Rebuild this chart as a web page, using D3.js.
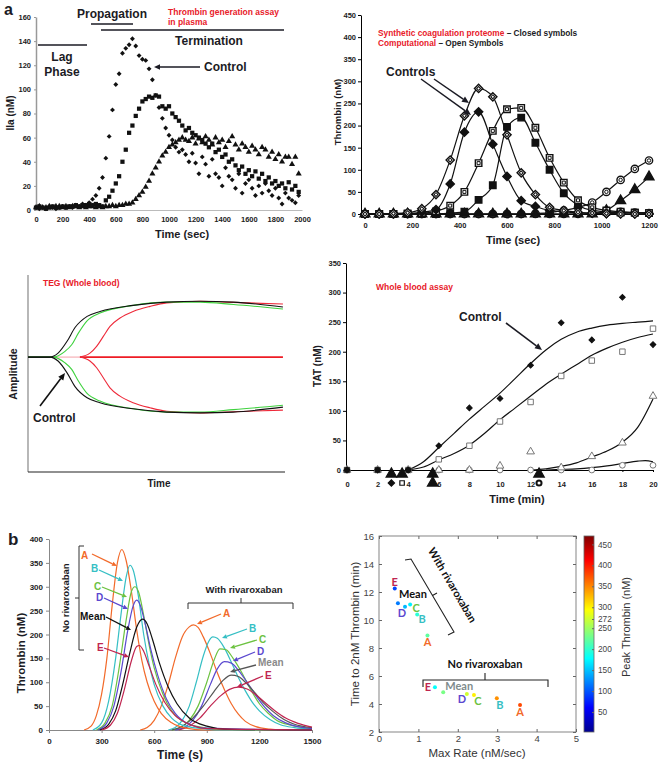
<!DOCTYPE html>
<meta charset="utf-8" />
<script src="https://d3js.org/d3.v7.min.js"></script>
<style>
  body { margin: 0; background: #fff; }
  svg { font-family: 'Liberation Sans', Arial, sans-serif; }
</style>
<div id="fig"></div>

<script>
  // ---------- a, top left: thrombin generation assay in plasma (IIa, nM) ----------
  // one reading every 25 s from t = 0
  const plasmaStep = 25;
  const plasmaControl = [2, 1, 2, 1, 3, 2, 1, 2, 3, 2, 3, 2, 4, 3, 5, 4,
    6, 9, 12, 18, 27, 43, 61, 83, 104, 113, 130, 134, 137, 142, 136, 128, 125, 124, 117, 108,
    95, 85, 76, 68, 62, 58, 52, 48, 50, 46, 40, 47, 39, 30, 44, 38, 28, 42, 30, 27,
    20, 35, 28, 25, 18, 30, 14, 22, 25, 18, 12, 20, 14, 22, 16, 12, 18, 10, 5, 14,
    10, 8, 6, 12];
  const plasmaSquare = [2, 3, 2, 1, 2, 3, 2, 2, 3, 2, 3, 3, 4, 3, 4, 4, 5, 4, 5, 4, 3,
    8, 11, 16, 22, 28, 40, 50, 64, 70, 78, 84, 90, 92, 94, 93, 95, 94, 86, 84, 86,
    80, 77, 74, 70, 66, 68, 64, 62, 60, 58, 55, 52, 55, 48, 50, 44, 46, 40, 42, 37,
    33, 36, 30, 33, 28, 32, 26, 30, 24, 27, 22, 24, 20, 22, 18, 23, 17, 20, 15];
  const plasmaTriangle = [2, 3, 2, 2, 3, 2, 3, 3, 2, 3, 2, 3, 3, 2, 3, 2, 3, 3, 2, 3, 2, 3, 3, 4, 3, 4, 4, 5, 5,
    6, 9, 12, 15, 19, 24, 30, 35, 40, 45, 48, 52, 54, 56, 58, 60, 58, 57, 60, 55,
    59, 56, 61, 58, 54, 60, 56, 58, 52, 57, 61, 54, 50, 55, 52, 48, 53, 50, 46, 52,
    50, 44, 48, 42, 46, 40, 44, 44, 38, 44, 30];

  // ---------- a, top right: synthetic proteome vs computational (thrombin, nM) ----------
  const tgTime = [0, 60, 120, 180, 240, 300, 360, 420, 480, 540, 600, 660, 720, 780, 840, 900, 960, 1020, 1080, 1140, 1200];
  const tgOpenDiamond = [0, 0, 1, 3, 12, 44, 122, 222, 284, 265, 179, 93, 44, 15, 8, 4, 2, 1, 0, 0, 0];
  const tgDiamond = [0, 0, 0, 1, 4, 10, 68, 185, 231, 158, 85, 30, 17, 8, 5, 3, 2, 1, 1, 0, 0];
  const tgOpenSquare = [0, 0, 0, 1, 2, 6, 19, 50, 115, 188, 237, 240, 195, 127, 71, 31, 15, 8, 5, 3, 2];
  const tgSquare = [0, 0, 0, 0, 0, 0, 2, 5, 32, 65, 197, 218, 161, 100, 47, 20, 8, 5, 3, 3, 2];
  const tgOpenCircle = [0, 0, 0, 0, 0, 0, 0, 0, 0, 0, 0, 0, 1, 3, 8, 15, 26, 50, 77, 102, 121];
  const tgCircle = [0, 0, 0, 0, 0, 0, 0, 0, 0, 0, 0, 0, 0, 0, 0, 0, 2, 4, 5, 3, 2];
  const tgTriangle = [0, 0, 0, 0, 0, 0, 0, 0, 0, 0, 0, 0, 0, 0, 0, 0, 0, 8, 30, 55, 84];

  // ---------- a, middle left: TEG amplitude (upper half of the trace) ----------
  const tegBlackT = [0, 8.5, 11.7, 15.2, 18.3, 23, 28, 40.9, 54, 67, 79.8, 99.2];
  const tegBlack = [0, 0, 2.4, 9.6, 18, 24.8, 27.8, 31.5, 33.5, 34, 33.5, 30.5];
  const tegGreenT = [0, 9.7, 14.4, 17, 19.6, 22.8, 28, 40.9, 54, 67, 80, 99.2];
  const tegGreen = [0, 0, 3.5, 7.5, 14.6, 21.8, 26.8, 31.5, 33.5, 33.5, 32, 29.3];
  const tegRedT = [20.2, 24.1, 26.7, 29.3, 31.9, 35.8, 40.9, 47.5, 54, 67, 79.8, 99.2];
  const tegRed = [0, 2.4, 6.5, 12.6, 18.7, 23.8, 27.8, 30.9, 33, 34, 33.3, 32.3];

  // ---------- a, middle right: whole blood assay (TAT, nM) ----------
  const tatTime = [0, 2, 4, 6, 8, 10, 12, 14, 16, 18, 20];
  const tatDiamond = [0, 0, 0, 41, 105, 121, 177, 249, 220, 292, 212];
  const tatSquare = [0, 0, 0, 18, 41, 82, 115, 159, 185, 200, 239];
  const tatTriangle = [0, 0, 0, 0, 0, 7, 31, 4, 23, 46, 125];
  const tatCircle = [0, 0, 0, 0, 0, 0, 0, 0, 0, 8, 8];
  const fitT = [4, 5, 6, 7, 8, 9, 10, 11, 12, 13, 14, 15, 16, 17, 18, 19, 20];
  const fitControl = [0, 14, 38, 62, 86, 108, 130, 155, 180, 203, 221, 233, 240, 245, 248, 250, 252];
  const fitSquare = [0, 5, 17, 28, 42, 62, 85, 105, 125, 145, 162, 178, 194, 206, 216, 224, 230];
  const fitTriangleT = [12, 13, 14, 15, 16, 17, 18, 19, 20];
  const fitTriangle = [0, 2, 6, 12, 22, 32, 47, 72, 120];
  const fitCircleT = [13, 14, 15, 16, 17, 18, 19, 19.5, 20];
  const fitCircle = [0, 1, 2, 4, 7, 11, 15, 16, 14];
  // clot times marked under the axis
  const clotTime = [2.9, 2.9, 3.6, 3.6, 5.6, 5.6, 12.55, 12.55];
  const clotSymbol = ['triangle', 'diamond', 'triangle', 'square', 'triangle', 'triangle', 'triangle', 'circle'];
  const clotRow = [0, 1, 0, 1, 0, 1, 0, 1];

  // ---------- b, left: thrombin (nM) vs time (s) ----------
  const donors = ['A', 'B', 'C', 'D', 'Mean', 'E'];
  const noRiva = {
    A: [[200, 0], [240, 8], [270, 30], [300, 75], [330, 150], [360, 260], [390, 350], [416, 378], [440, 355], [470, 290], [500, 210], [530, 145], [560, 100], [600, 60], [640, 35], [700, 15], [780, 4], [900, 0], [1500, 0]],
    B: [[250, 0], [300, 15], [340, 60], [380, 150], [410, 240], [440, 320], [462, 345], [480, 335], [510, 280], [540, 200], [570, 140], [600, 95], [650, 50], [700, 25], [780, 8], [900, 2], [1000, 0], [1500, 0]],
    C: [[270, 0], [320, 15], [360, 50], [400, 130], [440, 230], [470, 290], [490, 300], [510, 290], [540, 240], [570, 180], [600, 130], [650, 75], [700, 40], [780, 15], [900, 4], [1000, 1], [1500, 0]],
    D: [[280, 0], [330, 15], [370, 50], [410, 120], [450, 210], [480, 260], [500, 272], [520, 262], [550, 220], [580, 170], [620, 115], [670, 65], [720, 35], [800, 12], [900, 4], [1500, 0]],
    Mean: [[290, 0], [340, 12], [380, 40], [420, 95], [460, 160], [500, 215], [534, 232], [560, 222], [590, 190], [630, 140], [680, 90], [730, 55], [800, 25], [900, 8], [1000, 2], [1500, 0]],
    E: [[300, 0], [350, 10], [390, 35], [430, 85], [470, 145], [500, 175], [515, 177], [540, 165], [570, 135], [610, 95], [660, 58], [720, 30], [800, 12], [900, 3], [1500, 0]]
  };
  const withRiva = {
    A: [[520, 0], [560, 5], [600, 20], [640, 50], [680, 95], [720, 150], [760, 195], [800, 216], [824, 220], [850, 215], [880, 195], [920, 160], [960, 120], [1000, 85], [1040, 55], [1080, 33], [1120, 18], [1180, 7], [1260, 2], [1350, 0], [1500, 0]],
    B: [[680, 0], [720, 5], [760, 20], [800, 50], [840, 100], [880, 155], [910, 185], [935, 195], [960, 192], [1000, 172], [1040, 142], [1080, 110], [1120, 82], [1160, 58], [1200, 40], [1260, 22], [1320, 11], [1400, 5], [1500, 2]],
    C: [[700, 0], [750, 5], [800, 20], [850, 50], [900, 100], [940, 145], [975, 170], [1010, 168], [1050, 150], [1100, 120], [1150, 85], [1200, 55], [1250, 35], [1300, 20], [1380, 10], [1500, 3]],
    D: [[720, 0], [770, 5], [820, 20], [870, 50], [920, 95], [960, 128], [1000, 143], [1040, 140], [1080, 125], [1130, 100], [1180, 72], [1230, 48], [1280, 30], [1350, 15], [1420, 7], [1500, 3]],
    Mean: [[700, 0], [760, 8], [820, 25], [880, 50], [940, 80], [990, 103], [1040, 115], [1080, 112], [1120, 100], [1170, 80], [1220, 58], [1280, 38], [1340, 22], [1400, 12], [1500, 5]],
    E: [[740, 0], [800, 8], [860, 25], [920, 50], [980, 72], [1030, 85], [1080, 90], [1130, 86], [1180, 74], [1230, 58], [1290, 40], [1350, 25], [1420, 14], [1500, 6]]
  };

  // ---------- b, right: max rate vs time to 2 nM, coloured by peak thrombin ----------
  const rivaRate = [1.23, 0.97, 0.79, 0.66, 0.48, 0.40];
  const rivaTime2nM = [8.9, 10.4, 11.1, 10.95, 11.2, 12.25];
  const rivaPeak = [220, 195, 170, 143, 115, 90];
  const noRivaRate = [3.58, 2.99, 2.41, 2.23, 1.63, 1.42];
  const noRivaTime2nM = [3.93, 4.41, 4.64, 4.71, 4.84, 5.19];
  const noRivaPeak = [378, 345, 300, 272, 232, 177];
  const colorbarTicks = [50, 100, 150, 200, 250, 272, 300, 350, 400, 450];

  const donorColor = { A: '#f26a2a', B: '#36bfc4', C: '#6cc240', D: '#5a48cf', Mean: '#111', E: '#c02550' };
  const plain = d3.format('d');

  const svg = d3.select('#fig').append('svg').attr('width', 664).attr('height', 768);

  function txt(g, x, y, s, o = {}) {
    const t = g.append('text').attr('x', x).attr('y', y).text(s)
      .style('font-size', (o.size || 10) + 'px')
      .style('font-weight', o.weight || 'bold')
      .attr('fill', o.fill || '#1b1b24')
      .attr('text-anchor', o.anchor || 'start');
    if (o.rotate != null) t.attr('transform', `rotate(${o.rotate},${x},${y})`);
    if (o.family) t.style('font-family', o.family);
    return t;
  }

  function arrow(g, x1, y1, x2, y2, color, w = 1.5, head = 6) {
    const a = Math.atan2(y2 - y1, x2 - x1);
    const bx = x2 - head * Math.cos(a), by = y2 - head * Math.sin(a);
    g.append('line').attr('x1', x1).attr('y1', y1).attr('x2', bx).attr('y2', by)
      .attr('stroke', color).attr('stroke-width', w);
    const hw = head * 0.45;
    g.append('path')
      .attr('d', `M${x2},${y2}L${bx + hw * Math.sin(a)},${by - hw * Math.cos(a)}L${bx - hw * Math.sin(a)},${by + hw * Math.cos(a)}Z`)
      .attr('fill', color);
  }

  function styleAxis(g, o = {}) {
    g.attr('font-family', null).attr('font-size', null);
    g.selectAll('text').style('font-size', (o.size || 7.5) + 'px')
      .style('font-weight', o.weight || 'bold').attr('fill', o.fill || '#222');
    g.select('.domain').attr('stroke', o.line || '#000').attr('stroke-width', o.lw || 1);
    g.selectAll('.tick line').attr('stroke', o.line || '#000');
  }

  // square turned 45 degrees, the usual Excel diamond
  function marker(type, size) {
    if (type === 'diamond') return d3.symbol().type(d3.symbolSquare).size(size)();
    const t = { square: d3.symbolSquare, triangle: d3.symbolTriangle, circle: d3.symbolCircle }[type];
    return d3.symbol().type(t).size(size)();
  }
  const rot = (type) => (type === 'diamond' ? ' rotate(45)' : '');

  // =================== panel a, top left ===================
  {
    const g = svg.append('g');
    const x = d3.scaleLinear().domain([0, 2000]).range([36, 302]);
    const y = d3.scaleLinear().domain([0, 160]).range([210, 17]);

    styleAxis(g.append('g').attr('transform', 'translate(0,210)')
      .call(d3.axisBottom(x).tickValues(d3.range(0, 2001, 200)).tickFormat(plain).tickSize(0).tickPadding(7)),
      { line: '#bbb' });
    styleAxis(g.append('g').attr('transform', 'translate(36,0)')
      .call(d3.axisLeft(y).tickValues(d3.range(0, 161, 20)).tickSize(2).tickSizeOuter(0).tickPadding(3)),
      { line: '#999', lw: 1.5 });

    const series = [
      { v: plasmaTriangle, type: 'triangle', size: 16 },
      { v: plasmaSquare, type: 'square', size: 18 },
      { v: plasmaControl, type: 'diamond', size: 12 }
    ];
    series.forEach((s) => {
      g.append('g').selectAll('path').data(s.v).join('path')
        .attr('d', marker(s.type, s.size))
        .attr('transform', (d, i) => `translate(${x(i * plasmaStep)},${y(d)})${rot(s.type)}`)
        .attr('fill', '#111');
    });

    txt(g, 4, 15, 'a', { size: 16 });
    txt(g, 14, 113, 'IIa (nM)', { size: 10, anchor: 'middle', rotate: -90 });
    txt(g, 182, 238, 'Time (sec)', { size: 11, anchor: 'middle' });

    // phase bars
    const bar = (x1, x2, yy) => g.append('line').attr('x1', x1).attr('x2', x2)
      .attr('y1', yy).attr('y2', yy).attr('stroke', '#1b1b24').attr('stroke-width', 1.6);
    bar(38, 87, 45);
    bar(91, 133, 24);
    bar(101, 284, 30);
    txt(g, 112, 18, 'Propagation', { size: 12, anchor: 'middle' });
    txt(g, 209, 45, 'Termination', { size: 12, anchor: 'middle' });
    txt(g, 62, 61, 'Lag', { size: 12, anchor: 'middle' });
    txt(g, 62, 76, 'Phase', { size: 12, anchor: 'middle' });
    txt(g, 168, 15, 'Thrombin generation assay', { size: 8.5, fill: '#e8202a' });
    txt(g, 168, 25, 'in plasma', { size: 8.5, fill: '#e8202a' });
    txt(g, 204, 71, 'Control', { size: 12 });
    arrow(g, 200, 67, 154, 67, '#1b1b24', 1.5, 6);
  }

  // =================== panel a, top right ===================
  {
    const g = svg.append('g');
    const x = d3.scaleLinear().domain([0, 1200]).range([365, 649]);
    const y = d3.scaleLinear().domain([0, 450]).range([214, 15]);

    styleAxis(g.append('g').attr('transform', 'translate(0,214)')
      .call(d3.axisBottom(x).tickValues(d3.range(0, 1201, 200)).tickFormat(plain).tickSize(0).tickPadding(9)));
    styleAxis(g.append('g').attr('transform', 'translate(361,0)')
      .call(d3.axisLeft(y).tickValues(d3.range(0, 451, 50)).tickSize(3).tickSizeOuter(0).tickPadding(2)));

    const line = d3.line().x((d, i) => x(tgTime[i])).y((d) => y(d)).curve(d3.curveMonotoneX);
    const series = [
      { v: tgCircle, type: 'circle', open: false },
      { v: tgOpenCircle, type: 'circle', open: true },
      { v: tgTriangle, type: 'triangle', open: false },
      { v: tgSquare, type: 'square', open: false },
      { v: tgOpenSquare, type: 'square', open: true },
      { v: tgDiamond, type: 'diamond', open: false },
      { v: tgOpenDiamond, type: 'diamond', open: true }
    ];
    series.forEach((s) => {
      g.append('path').attr('d', line(s.v)).attr('fill', 'none')
        .attr('stroke', '#111').attr('stroke-width', 1.2);
    });
    series.forEach((s) => {
      const size = s.type === 'diamond' ? 34 : 42;
      const pts = g.append('g').selectAll('g').data(s.v).join('g')
        .attr('transform', (d, i) => `translate(${x(tgTime[i])},${y(d)})${rot(s.type)}`);
      pts.append('path').attr('d', marker(s.type, size))
        .attr('fill', s.open ? '#fff' : '#111').attr('stroke', '#111').attr('stroke-width', 1.4);
      if (s.open) {
        pts.append('path').attr('d', marker(s.type, size * 0.22))
          .attr('fill', 'none').attr('stroke', '#111').attr('stroke-width', 1);
      }
    });

    txt(g, 341, 112, 'Thrombin (nM)', { size: 9.5, anchor: 'middle', rotate: -90 });
    txt(g, 513, 244, 'Time (sec)', { size: 11, anchor: 'middle' });

    const t1 = txt(g, 378, 36, '', { size: 8.3, fill: '#e8202a' });
    t1.append('tspan').text('Synthetic coagulation proteome');
    t1.append('tspan').attr('fill', '#1b1b24').text(' – Closed symbols');
    const t2 = txt(g, 378, 46, '', { size: 8.3, fill: '#e8202a' });
    t2.append('tspan').text('Computational');
    t2.append('tspan').attr('fill', '#1b1b24').text(' – Open Symbols');

    txt(g, 386, 76, 'Controls', { size: 12 });
    arrow(g, 421, 79, 471, 115, '#1b1b24', 1.5, 7);
    arrow(g, 434, 79, 469, 103, '#1b1b24', 1.5, 7);
  }

  // =================== panel a, middle left (TEG) ===================
  {
    const g = svg.append('g');
    const x = d3.scaleLinear().domain([0, 100]).range([28, 285]);
    const y = d3.scaleLinear().domain([-70, 50]).range([472, 275]);

    g.append('line').attr('x1', 28).attr('x2', 28).attr('y1', y(50)).attr('y2', y(-70))
      .attr('stroke', '#888').attr('stroke-width', 1.2);
    g.append('line').attr('x1', 28).attr('x2', x(100)).attr('y1', y(-70)).attr('y2', y(-70))
      .attr('stroke', '#222').attr('stroke-width', 1.2);

    // flat baseline before clotting, then the red zero line
    g.append('line').attr('x1', x(0)).attr('x2', x(20.2)).attr('y1', y(0)).attr('y2', y(0))
      .attr('stroke', '#f4a0a8').attr('stroke-width', 1);
    g.append('line').attr('x1', x(20.2)).attr('x2', x(99.2)).attr('y1', y(0)).attr('y2', y(0))
      .attr('stroke', '#ee1c25').attr('stroke-width', 1.6);

    const traces = [
      { t: tegRedT, a: tegRed, c: '#ee2a3a' },
      { t: tegGreenT, a: tegGreen, c: '#3fd23f' },
      { t: tegBlackT, a: tegBlack, c: '#111' }
    ];
    traces.forEach((tr) => {
      [1, -1].forEach((side) => {
        const line = d3.line().x((d, i) => x(tr.t[i])).y((d) => y(side * d)).curve(d3.curveMonotoneX);
        g.append('path').attr('d', line(tr.a)).attr('fill', 'none')
          .attr('stroke', tr.c).attr('stroke-width', 1.1);
      });
    });

    txt(g, 43, 286, 'TEG (Whole blood)', { size: 8.5, fill: '#e8202a' });
    txt(g, 17, 374, 'Amplitude', { size: 10.5, anchor: 'middle', rotate: -90 });
    txt(g, 159, 487, 'Time', { size: 10, anchor: 'middle' });
    txt(g, 33, 422, 'Control', { size: 12 });
    arrow(g, 40, 406, 65, 373, '#111', 1.6, 7);
  }

  // =================== panel a, middle right (TAT) ===================
  {
    const g = svg.append('g');
    const x = d3.scaleLinear().domain([0, 20]).range([347, 653]);
    const y = d3.scaleLinear().domain([0, 350]).range([470, 263]);

    styleAxis(g.append('g').attr('transform', 'translate(0,470)')
      .call(d3.axisBottom(x).tickValues(d3.range(0, 21, 2)).tickSize(2).tickSizeOuter(0).tickPadding(10)));
    styleAxis(g.append('g').attr('transform', 'translate(346,0)')
      .call(d3.axisLeft(y).tickValues(d3.range(0, 351, 50)).tickSize(3).tickSizeOuter(0).tickPadding(2)));

    const fits = [
      { t: fitT, v: fitControl },
      { t: fitT, v: fitSquare },
      { t: fitTriangleT, v: fitTriangle },
      { t: fitCircleT, v: fitCircle }
    ];
    fits.forEach((f) => {
      const line = d3.line().x((d, i) => x(f.t[i])).y((d) => y(d)).curve(d3.curveMonotoneX);
      g.append('path').attr('d', line(f.v)).attr('fill', 'none')
        .attr('stroke', '#111').attr('stroke-width', 1.2);
    });

    const series = [
      { v: tatCircle, type: 'circle', open: true, size: 26 },
      { v: tatTriangle, type: 'triangle', open: true, size: 26 },
      { v: tatSquare, type: 'square', open: true, size: 30 },
      { v: tatDiamond, type: 'diamond', open: false, size: 16 }
    ];
    series.forEach((s) => {
      g.append('g').selectAll('path').data(s.v).join('path')
        .attr('d', marker(s.type, s.size))
        .attr('transform', (d, i) => `translate(${x(tatTime[i])},${y(d)})${rot(s.type)}`)
        .attr('fill', s.open ? '#fff' : '#111')
        .attr('stroke', s.open ? '#777' : '#111').attr('stroke-width', 1);
    });
    // filled points at the origin of the assay
    g.append('g').selectAll('path').data(tatTime.slice(0, 3)).join('path')
      .attr('d', (d, i) => marker(i === 2 ? 'circle' : 'square', 30))
      .attr('transform', (d) => `translate(${x(d)},${y(0)})`).attr('fill', '#111');

    // clot times below the axis
    g.append('g').selectAll('path').data(clotTime).join('path')
      .attr('d', (d, i) => marker(clotSymbol[i], clotSymbol[i] === 'triangle' ? 48 : 20))
      .attr('transform', (d, i) => `translate(${x(d)},${clotRow[i] ? 483 : 474})${rot(clotSymbol[i])}`)
      .attr('fill', (d, i) => (clotSymbol[i] === 'square' || clotSymbol[i] === 'circle') ? '#fff' : '#111')
      .attr('stroke', '#111').attr('stroke-width', (d, i) => clotSymbol[i] === 'circle' ? 2 : 1.2);

    txt(g, 321, 366, 'TAT (nM)', { size: 10, anchor: 'middle', rotate: -90 });
    txt(g, 517, 503, 'Time (min)', { size: 11, anchor: 'middle' });
    txt(g, 376, 290, 'Whole blood assay', { size: 8.5, fill: '#e8202a' });
    txt(g, 459, 321, 'Control', { size: 12 });
    arrow(g, 506, 323, 542, 350, '#1b1b24', 1.6, 7);
  }

  // =================== panel b, left ===================
  {
    const g = svg.append('g');
    const x = d3.scaleLinear().domain([0, 1500]).range([49, 312]);
    const y = d3.scaleLinear().domain([0, 400]).range([730, 539]);

    styleAxis(g.append('g').attr('transform', 'translate(0,730)')
      .call(d3.axisBottom(x).tickValues(d3.range(0, 1501, 300)).tickFormat(plain).tickSize(3).tickSizeOuter(0).tickPadding(5)),
      { size: 8, line: '#888' });
    styleAxis(g.append('g').attr('transform', 'translate(49,0)')
      .call(d3.axisLeft(y).tickValues(d3.range(0, 401, 50)).tickSize(3).tickSizeOuter(0).tickPadding(3)),
      { size: 8, line: '#888' });

    const line = d3.line().x((d) => x(d[0])).y((d) => y(d[1])).curve(d3.curveMonotoneX);
    const rivaColor = { ...donorColor, Mean: '#555' };
    donors.forEach((k) => {
      g.append('path').attr('d', line(withRiva[k])).attr('fill', 'none')
        .attr('stroke', rivaColor[k]).attr('stroke-width', 1.2);
    });
    donors.forEach((k) => {
      g.append('path').attr('d', line(noRiva[k])).attr('fill', 'none')
        .attr('stroke', donorColor[k]).attr('stroke-width', 1.2);
    });

    txt(g, 8, 545, 'b', { size: 17 });
    txt(g, 25, 653, 'Thrombin (nM)', { size: 11.5, anchor: 'middle', rotate: -90 });
    txt(g, 180, 759, 'Time (s)', { size: 12, anchor: 'middle' });

    // "No rivaroxaban" bracket
    g.append('path').attr('d', 'M84,546H79V650H84M79,598H75')
      .attr('fill', 'none').attr('stroke', '#333').attr('stroke-width', 1);
    txt(g, 69, 598, 'No rivaroxaban', { size: 9.5, anchor: 'middle', rotate: -90 });
    // "With rivaroxaban" bracket
    g.append('path').attr('d', 'M188,609V603H293V609M241,603V598')
      .attr('fill', 'none').attr('stroke', '#333').attr('stroke-width', 1);
    txt(g, 244, 593, 'With rivaroxaban', { size: 9.5, anchor: 'middle' });

    const noLab = [
      { k: 'A', tx: 81, ty: 559, a: [92, 554, 117, 566] },
      { k: 'B', tx: 91, ty: 572, a: [99, 570, 123, 581] },
      { k: 'C', tx: 94, ty: 590, a: [102, 587, 127, 597] },
      { k: 'D', tx: 96, ty: 601, a: [104, 598, 128, 609] },
      { k: 'Mean', tx: 80, ty: 620, a: [106, 617, 131, 630] },
      { k: 'E', tx: 97, ty: 651, a: [104, 648, 129, 657] }
    ];
    noLab.forEach((l) => {
      txt(g, l.tx, l.ty, l.k, { size: 10, fill: donorColor[l.k] });
      arrow(g, ...l.a, donorColor[l.k], 1.3, 5);
    });
    const rivaLab = [
      { k: 'A', tx: 223, ty: 617, a: [221, 614, 197, 624] },
      { k: 'B', tx: 249, ty: 632, a: [247, 629, 222, 638] },
      { k: 'C', tx: 259, ty: 643, a: [257, 640, 230, 648] },
      { k: 'D', tx: 257, ty: 655, a: [255, 652, 233, 661] },
      { k: 'Mean', tx: 258, ty: 666, a: [256, 665, 230, 672] },
      { k: 'E', tx: 265, ty: 679, a: [263, 676, 237, 687] }
    ];
    rivaLab.forEach((l) => {
      const c = l.k === 'Mean' ? '#8a8a8a' : donorColor[l.k];
      txt(g, l.tx, l.ty, l.k, { size: 10, fill: c });
      arrow(g, ...l.a, l.k === 'Mean' ? '#555' : c, 1.3, 5);
    });
  }

  // =================== panel b, right ===================
  {
    const g = svg.append('g');
    const x = d3.scaleLinear().domain([0, 5]).range([379, 576]);
    const y = d3.scaleLinear().domain([2, 16]).range([732, 536]);
    const jetStops = [[0, '#00008f'], [0.125, '#0000ff'], [0.375, '#00ffff'], [0.625, '#ffff00'], [0.875, '#ff0000'], [1, '#800000']];
    const peakMax = 470;
    const jet = d3.scaleLinear().domain(jetStops.map((s) => s[0] * peakMax)).range(jetStops.map((s) => s[1]));

    g.append('rect').attr('x', 379).attr('y', 536).attr('width', 197).attr('height', 196)
      .attr('fill', 'none').attr('stroke', '#666').attr('stroke-width', 0.8);
    const ax = (a, size = 9.5) => {
      a.attr('font-family', null).attr('font-size', null);
      a.select('.domain').remove();
      a.selectAll('.tick line').attr('stroke', '#666');
      a.selectAll('text').style('font-size', size + 'px').attr('fill', '#444');
    };
    ax(g.append('g').attr('transform', 'translate(0,732)')
      .call(d3.axisBottom(x).ticks(5).tickSize(-3).tickPadding(3)));
    ax(g.append('g').attr('transform', 'translate(379,0)')
      .call(d3.axisLeft(y).tickValues(d3.range(2, 17, 2)).tickSize(-3).tickPadding(5)));
    ax(g.append('g').attr('transform', 'translate(0,536)')
      .call(d3.axisTop(x).ticks(5).tickSize(-3).tickFormat('')));
    ax(g.append('g').attr('transform', 'translate(576,0)')
      .call(d3.axisRight(y).tickValues(d3.range(2, 17, 2)).tickSize(-3).tickFormat('')));

    txt(g, 477, 757, 'Max Rate (nM/sec)', { size: 11.5, weight: 'normal', fill: '#333', anchor: 'middle' });
    txt(g, 359, 634, 'Time to 2nM Thrombin (min)', { size: 11.5, weight: 'normal', fill: '#333', anchor: 'middle', rotate: -90 });

    // colour bar
    const grad = svg.append('defs').append('linearGradient').attr('id', 'jet')
      .attr('x1', 0).attr('y1', 1).attr('x2', 0).attr('y2', 0);
    jetStops.forEach((s) => grad.append('stop').attr('offset', s[0]).attr('stop-color', s[1]));
    const cb = d3.scaleLinear().domain([0, peakMax]).range([733, 536]);
    g.append('rect').attr('x', 584).attr('y', 536).attr('width', 10).attr('height', 196)
      .attr('fill', 'url(#jet)').attr('stroke', '#666').attr('stroke-width', 0.8);
    const cbAxis = g.append('g').attr('transform', 'translate(594,0)')
      .call(d3.axisRight(cb).tickValues(colorbarTicks).tickSize(-2).tickPadding(4));
    ax(cbAxis, 8.3);
    txt(g, 630, 627, 'Peak Thrombin (nM)', { size: 11, weight: 'normal', fill: '#333', anchor: 'middle', rotate: -90 });

    // points
    const drawPts = (rate, time, peak) => {
      g.append('g').selectAll('circle').data(rate).join('circle')
        .attr('cx', (d) => x(d)).attr('cy', (d, i) => y(time[i])).attr('r', 2)
        .attr('fill', (d, i) => jet(peak[i]));
    };
    drawPts(rivaRate, rivaTime2nM, rivaPeak);
    drawPts(noRivaRate, noRivaTime2nM, noRivaPeak);

    // labels next to each point, offsets in pixels from the dot
    const lab = (d) => txt(g, d.x, d.y, d.k, { size: 11, fill: d.c, anchor: 'middle', family: "Lato, 'Open Sans', sans-serif" });
    const rivaOffsets = [[0, 11], [5, 9], [6, 7], [-3, 10], [15, -5], [0, -3]];
    const noRivaOffsets = [[0, 11], [3, 11], [4, 10], [-5, 9], [16, -2], [-7, 4]];
    ['A', 'B', 'C', 'D', 'Mean', 'E'].forEach((k, i) => {
      lab({ k, x: x(rivaRate[i]) + rivaOffsets[i][0], y: y(rivaTime2nM[i]) + rivaOffsets[i][1],
        c: k === 'Mean' ? '#111' : donorColor[k] });
      lab({ k, x: x(noRivaRate[i]) + noRivaOffsets[i][0], y: y(noRivaTime2nM[i]) + noRivaOffsets[i][1],
        c: k === 'Mean' ? '#7f8c8d' : donorColor[k] });
    });

    // brackets
    g.append('path').attr('d', 'M423,687V680H548V687M485,680V673')
      .attr('fill', 'none').attr('stroke', '#222').attr('stroke-width', 1.1);
    txt(g, 485, 668, 'No rivaroxaban', { size: 11, anchor: 'middle', fill: '#111', family: "Lato, 'Open Sans', sans-serif" });
    g.append('path').attr('d', 'M405,560L411,559L454,632L448,635M432.5,595.5L437,593')
      .attr('fill', 'none').attr('stroke', '#222').attr('stroke-width', 1.1);
    txt(g, 449, 587, 'With rivaroxaban', { size: 11, anchor: 'middle', fill: '#111', rotate: 59.5, family: "Lato, 'Open Sans', sans-serif" });
  }
</script>
